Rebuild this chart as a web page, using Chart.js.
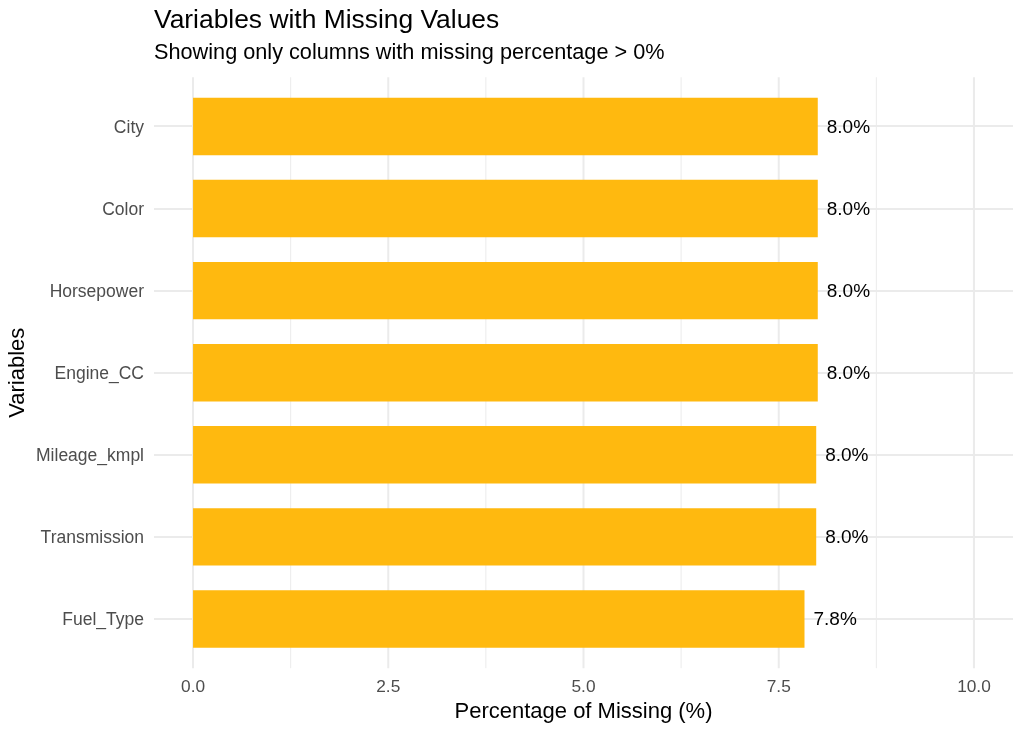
<!DOCTYPE html>
<html>
<head>
<meta charset="utf-8">
<script src="https://cdn.jsdelivr.net/npm/chart.js@4/dist/chart.umd.min.js"></script>
<style>
  body { margin: 0; background: #fff; }
  #wrap { width: 1024px; height: 731px; }
</style>
</head>
<body>
<div id="wrap"><canvas id="missingChart" width="1024" height="731"></canvas></div>
<script>
const variables = ['City', 'Color', 'Horsepower', 'Engine_CC', 'Mileage_kmpl', 'Transmission', 'Fuel_Type'];
const missingPct = [8.0, 8.0, 8.0, 8.0, 7.98, 7.98, 7.83];
const xMajorTicks = [0, 2.5, 5, 7.5, 10];
const xMinorTicks = [1.25, 3.75, 6.25, 8.75];

const FONT = '"Liberation Sans", Arial, sans-serif';
const GRID = '#EBEBEB';

// ggplot-style panel grid: vertical lines run past the bars a little
const panelGrid = {
    id: 'panelGrid',
    beforeDatasetsDraw(chart) {
        const { ctx, chartArea, scales } = chart;
        const ext = 8.2;
        ctx.save();
        ctx.strokeStyle = GRID;
        const draw = (v, w) => {
            const x = scales.x.getPixelForValue(v);
            ctx.lineWidth = w;
            ctx.beginPath();
            ctx.moveTo(x, chartArea.top - ext);
            ctx.lineTo(x, chartArea.bottom + ext);
            ctx.stroke();
        };
        xMinorTicks.forEach(v => draw(v, 1));
        xMajorTicks.forEach(v => draw(v, 2));
        ctx.restore();
    }
};

const barLabels = {
    id: 'barLabels',
    afterDatasetsDraw(chart) {
        const { ctx } = chart;
        const meta = chart.getDatasetMeta(0);
        ctx.save();
        ctx.font = '19px ' + FONT;
        ctx.fillStyle = '#000';
        ctx.textAlign = 'left';
        ctx.textBaseline = 'middle';
        meta.data.forEach((bar, i) => {
            ctx.fillText(missingPct[i].toFixed(1) + '%', bar.x + 9, bar.y + 1);
        });
        ctx.restore();
    }
};

const ctx = document.getElementById('missingChart').getContext('2d');
new Chart(ctx, {
    type: 'bar',
    data: {
        labels: variables,
        datasets: [{
            data: missingPct,
            backgroundColor: '#FFB90F',
            barPercentage: 0.7,
            categoryPercentage: 1.0
        }]
    },
    options: {
        indexAxis: 'y',
        responsive: false,
        animation: false,
        layout: { padding: { left: 0, right: 11, top: 0, bottom: 0 } },
        plugins: {
            legend: { display: false },
            tooltip: { enabled: false },
            title: {
                display: true,
                text: 'Variables with Missing Values',
                align: 'start',
                fullSize: false,
                color: '#000',
                font: { family: FONT, size: 26.4, weight: 'normal', lineHeight: 1.2 },
                padding: { top: 5, bottom: 0 }
            },
            subtitle: {
                display: true,
                text: 'Showing only columns with missing percentage > 0%',
                align: 'start',
                fullSize: false,
                color: '#000',
                font: { family: FONT, size: 21.7, weight: 'normal', lineHeight: 1.2 },
                padding: { top: 3.4, bottom: 19.3 }
            }
        },
        scales: {
            x: {
                type: 'linear',
                min: -0.5,
                max: 10.5,
                afterBuildTicks(scale) {
                    scale.ticks = xMajorTicks.map(v => ({ value: v }));
                },
                afterFit(scale) { scale.height = 71; },
                grid: { display: false, drawTicks: false },
                border: { display: false },
                ticks: {
                    color: '#4D4D4D',
                    padding: 17,
                    maxRotation: 0,
                    font: { family: FONT, size: 17.3 },
                    callback: v => Number(v).toFixed(1)
                },
                title: {
                    display: true,
                    text: 'Percentage of Missing (%)',
                    color: '#000',
                    font: { family: FONT, size: 22, lineHeight: 1.2 },
                    padding: { top: 0, bottom: 5.5 }
                }
            },
            y: {
                afterFit(scale) { scale.width = 154; },
                grid: { display: true, offset: false, drawTicks: false, color: GRID, lineWidth: 2 },
                border: { display: false },
                ticks: {
                    color: '#4D4D4D',
                    padding: 10,
                    labelOffset: 1.5,
                    font: { family: FONT, size: 17.5 }
                },
                title: {
                    display: true,
                    text: 'Variables',
                    color: '#000',
                    font: { family: FONT, size: 22, lineHeight: 1.2 },
                    padding: { top: 5, bottom: 0 }
                }
            }
        }
    },
    plugins: [panelGrid, barLabels]
});
</script>
</body>
</html>
